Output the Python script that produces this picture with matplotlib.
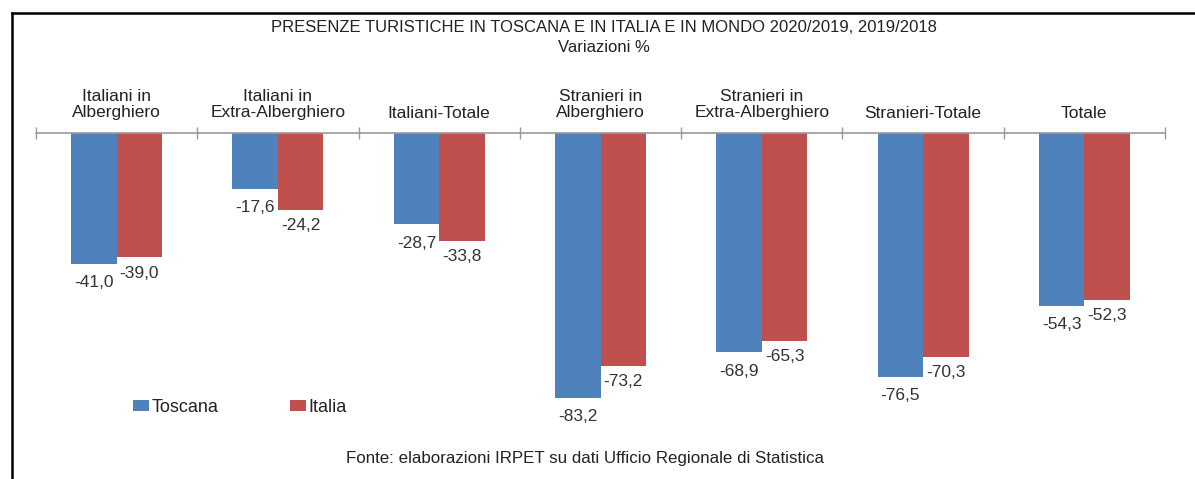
import numpy as np
import matplotlib.pyplot as plt
from matplotlib.lines import Line2D

# dati
categorie = ['Italiani in\nAlberghiero', 'Italiani in\nExtra-Alberghiero', 'Italiani-Totale',
             'Stranieri in\nAlberghiero', 'Stranieri in\nExtra-Alberghiero', 'Stranieri-Totale', 'Totale']
toscana = [-41.0, -17.6, -28.7, -83.2, -68.9, -76.5, -54.3]
italia = [-39.0, -24.2, -33.8, -73.2, -65.3, -70.3, -52.3]

BLU = '#4F81BD'
ROSSO = '#C0504D'
W, H = 1195, 479

plt.rcParams['font.family'] = ['Liberation Sans', 'DejaVu Sans']


def fmt(v):
    return f'{v:.1f}'.replace('.', ',')


def main():
    fig = plt.figure(figsize=(W / 100, H / 100), dpi=100)
    # asse: x 0..7 -> px 36..1165, y 0 -> px 133, -100 -> px 451.5
    ax = fig.add_axes([36 / W, 1 - 451.5 / H, 1129 / W, (451.5 - 133) / H])
    ax.set_xlim(0, 7)
    ax.set_ylim(-100, 0)

    x = np.arange(len(categorie)) + 0.5
    bw = 0.282
    ax.bar(x - bw / 2, toscana, bw, color=BLU, label='Toscana')
    ax.bar(x + bw / 2, italia, bw, color=ROSSO, label='Italia')

    for xi, v in zip(x - bw / 2, toscana):
        ax.annotate(fmt(v), (xi, v), xytext=(0, -8), textcoords='offset points',
                    ha='center', va='top', fontsize=12.5, color='#333333')
    for xi, v in zip(x + bw / 2, italia):
        ax.annotate(fmt(v), (xi, v), xytext=(0, -6), textcoords='offset points',
                    ha='center', va='top', fontsize=12.5, color='#333333')

    # asse categorie in alto
    for s in ['bottom', 'left', 'right']:
        ax.spines[s].set_visible(False)
    ax.spines['top'].set_color('#999999')
    ax.spines['top'].set_linewidth(1.2)
    ax.xaxis.tick_top()
    ax.set_xticks(np.arange(8))
    ax.set_xticklabels([])
    ax.tick_params(axis='x', which='major', direction='inout', length=8, color='#999999', width=1)
    ax.set_xticks(x, minor=True)
    ax.set_xticklabels(categorie, minor=True, fontsize=12.5, color='#222222', linespacing=1.15)
    ax.tick_params(axis='x', which='minor', length=0, pad=9)
    ax.set_yticks([])

    fig.text(604 / W, 1 - 28 / H, 'PRESENZE TURISTICHE IN TOSCANA E IN ITALIA E IN MONDO 2020/2019, 2019/2018',
             ha='center', va='center', fontsize=12, color='#222222')
    fig.text(604 / W, 1 - 47 / H, 'Variazioni %', ha='center', va='center', fontsize=12,
             color='#222222')
    fig.text(585 / W, 1 - 459 / H, 'Fonte: elaborazioni IRPET su dati Ufficio Regionale di Statistica',
             ha='center', va='center', fontsize=12.2, color='#222222')

    fig.legend(loc='center left', bbox_to_anchor=(117 / W, 1 - 407 / H), ncol=2, frameon=False,
               fontsize=13, handlelength=0.85, handleheight=0.55, handletextpad=0.15,
               columnspacing=4.0, labelcolor='#222222')

    # cornice
    fig.add_artist(Line2D([12 / W, 12 / W], [1 - 13 / H, 0], color='black', lw=1.8))
    fig.add_artist(Line2D([12 / W, 1], [1 - 13 / H, 1 - 13 / H], color='black', lw=1.8))

    fig.savefig('out.png', dpi=100)


if __name__ == "__main__":
    main()
